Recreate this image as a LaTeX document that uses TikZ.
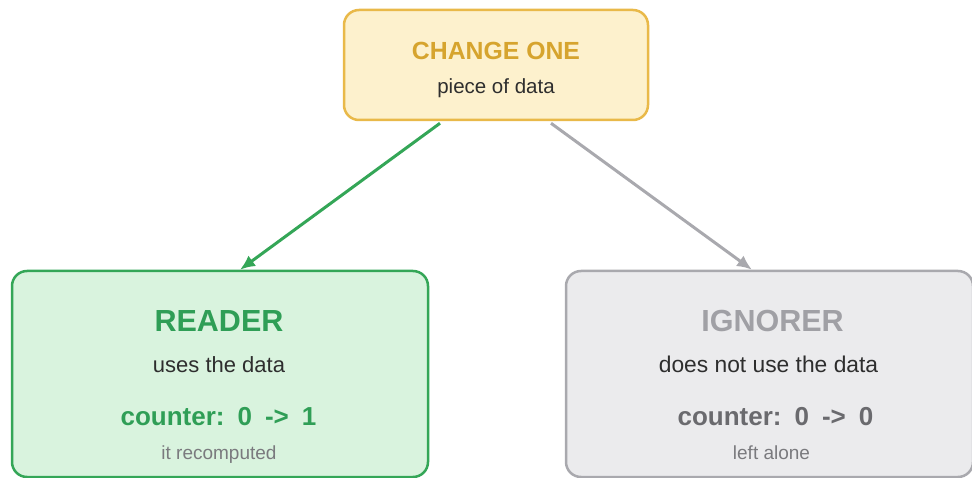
\documentclass[tikz,border=0pt]{standalone}
\usepackage{fontspec}
\setmainfont{Liberation Sans}
\usetikzlibrary{arrows.meta,calc}

\definecolor{goldline}{HTML}{E9B949}
\definecolor{goldfill}{HTML}{FDF1CD}
\definecolor{goldtext}{HTML}{D6A42E}
\definecolor{greenline}{HTML}{34A657}
\definecolor{greenfill}{HTML}{D9F3DE}
\definecolor{greentext}{HTML}{2F9E56}
\definecolor{greyline}{HTML}{A9A9AE}
\definecolor{greyfill}{HTML}{EBEBED}
\definecolor{greytext}{HTML}{A0A0A5}
\definecolor{darktext}{HTML}{2E2E2E}
\definecolor{midtext}{HTML}{6A6A6E}
\definecolor{softtext}{HTML}{7A7A7E}

\tikzset{
  card/.style={draw, rounded corners=15pt, line width=2.5pt, inner sep=0pt},
  txt/.style={anchor=base, inner sep=0pt},
  link/.style={line width=3pt, -{Latex[length=15pt,width=13pt]}},
}

\newcommand{\gap}{\hspace{13pt}}

\begin{document}
\begin{tikzpicture}[x=1pt,y=-1pt]
  \useasboundingbox (0,0) rectangle (972,478);

  % boxes
  \node[card, draw=goldline, fill=goldfill, minimum width=304pt, minimum height=110pt]
    (change) at (496,65) {};
  \node[card, draw=greenline, fill=greenfill, minimum width=416pt, minimum height=206pt]
    (reader) at (220,374) {};
  \node[card, draw=greyline, fill=greyfill, minimum width=407pt, minimum height=206pt]
    (ignorer) at (769.5,374) {};

  % top box text
  \node[txt, text=goldtext, font=\fontsize{24.8}{28}\selectfont\bfseries] (changeT) at (496,60) {CHANGE ONE};
  \node[txt, text=darktext, font=\fontsize{20.5}{24}\selectfont] (changeS) at (496,94) {piece of data};

  % reader text
  \node[txt, text=greentext, font=\fontsize{30.5}{34}\selectfont\bfseries] (readerT) at (219,331) {READER};
  \node[txt, text=darktext, font=\fontsize{22}{25}\selectfont] (readerS) at (219,372) {uses the data};
  \node[txt, text=greentext, font=\fontsize{26}{30}\selectfont\bfseries] (readerC) at (218.5,425) {counter:\gap 0\gap ->\gap 1};
  \node[txt, text=softtext, font=\fontsize{19}{22}\selectfont] (readerN) at (219,459) {it recomputed};

  % ignorer text
  \node[txt, text=greytext, font=\fontsize{30.5}{34}\selectfont\bfseries] (ignorerT) at (772.5,331) {IGNORER};
  \node[txt, text=darktext, font=\fontsize{22.8}{26}\selectfont] (ignorerS) at (768.5,372) {does not use the data};
  \node[txt, text=midtext, font=\fontsize{26}{30}\selectfont\bfseries] (ignorerC) at (775.5,425) {counter:\gap 0\gap ->\gap 0};
  \node[txt, text=softtext, font=\fontsize{19}{22}\selectfont] (ignorerN) at (771.5,459) {left alone};

  % connectors
  \coordinate (gs) at ($(change.south)+(-56,2)$);
  \coordinate (ge) at ($(reader.north)+(20,0)$);
  \coordinate (rs) at ($(change.south)+(55,2)$);
  \coordinate (re) at ($(ignorer.north)+(-17.5,0)$);
  \draw[link, greenline] (gs) -- (ge);
  \draw[link, greyline] (rs) -- (re);
\end{tikzpicture}
\end{document}
